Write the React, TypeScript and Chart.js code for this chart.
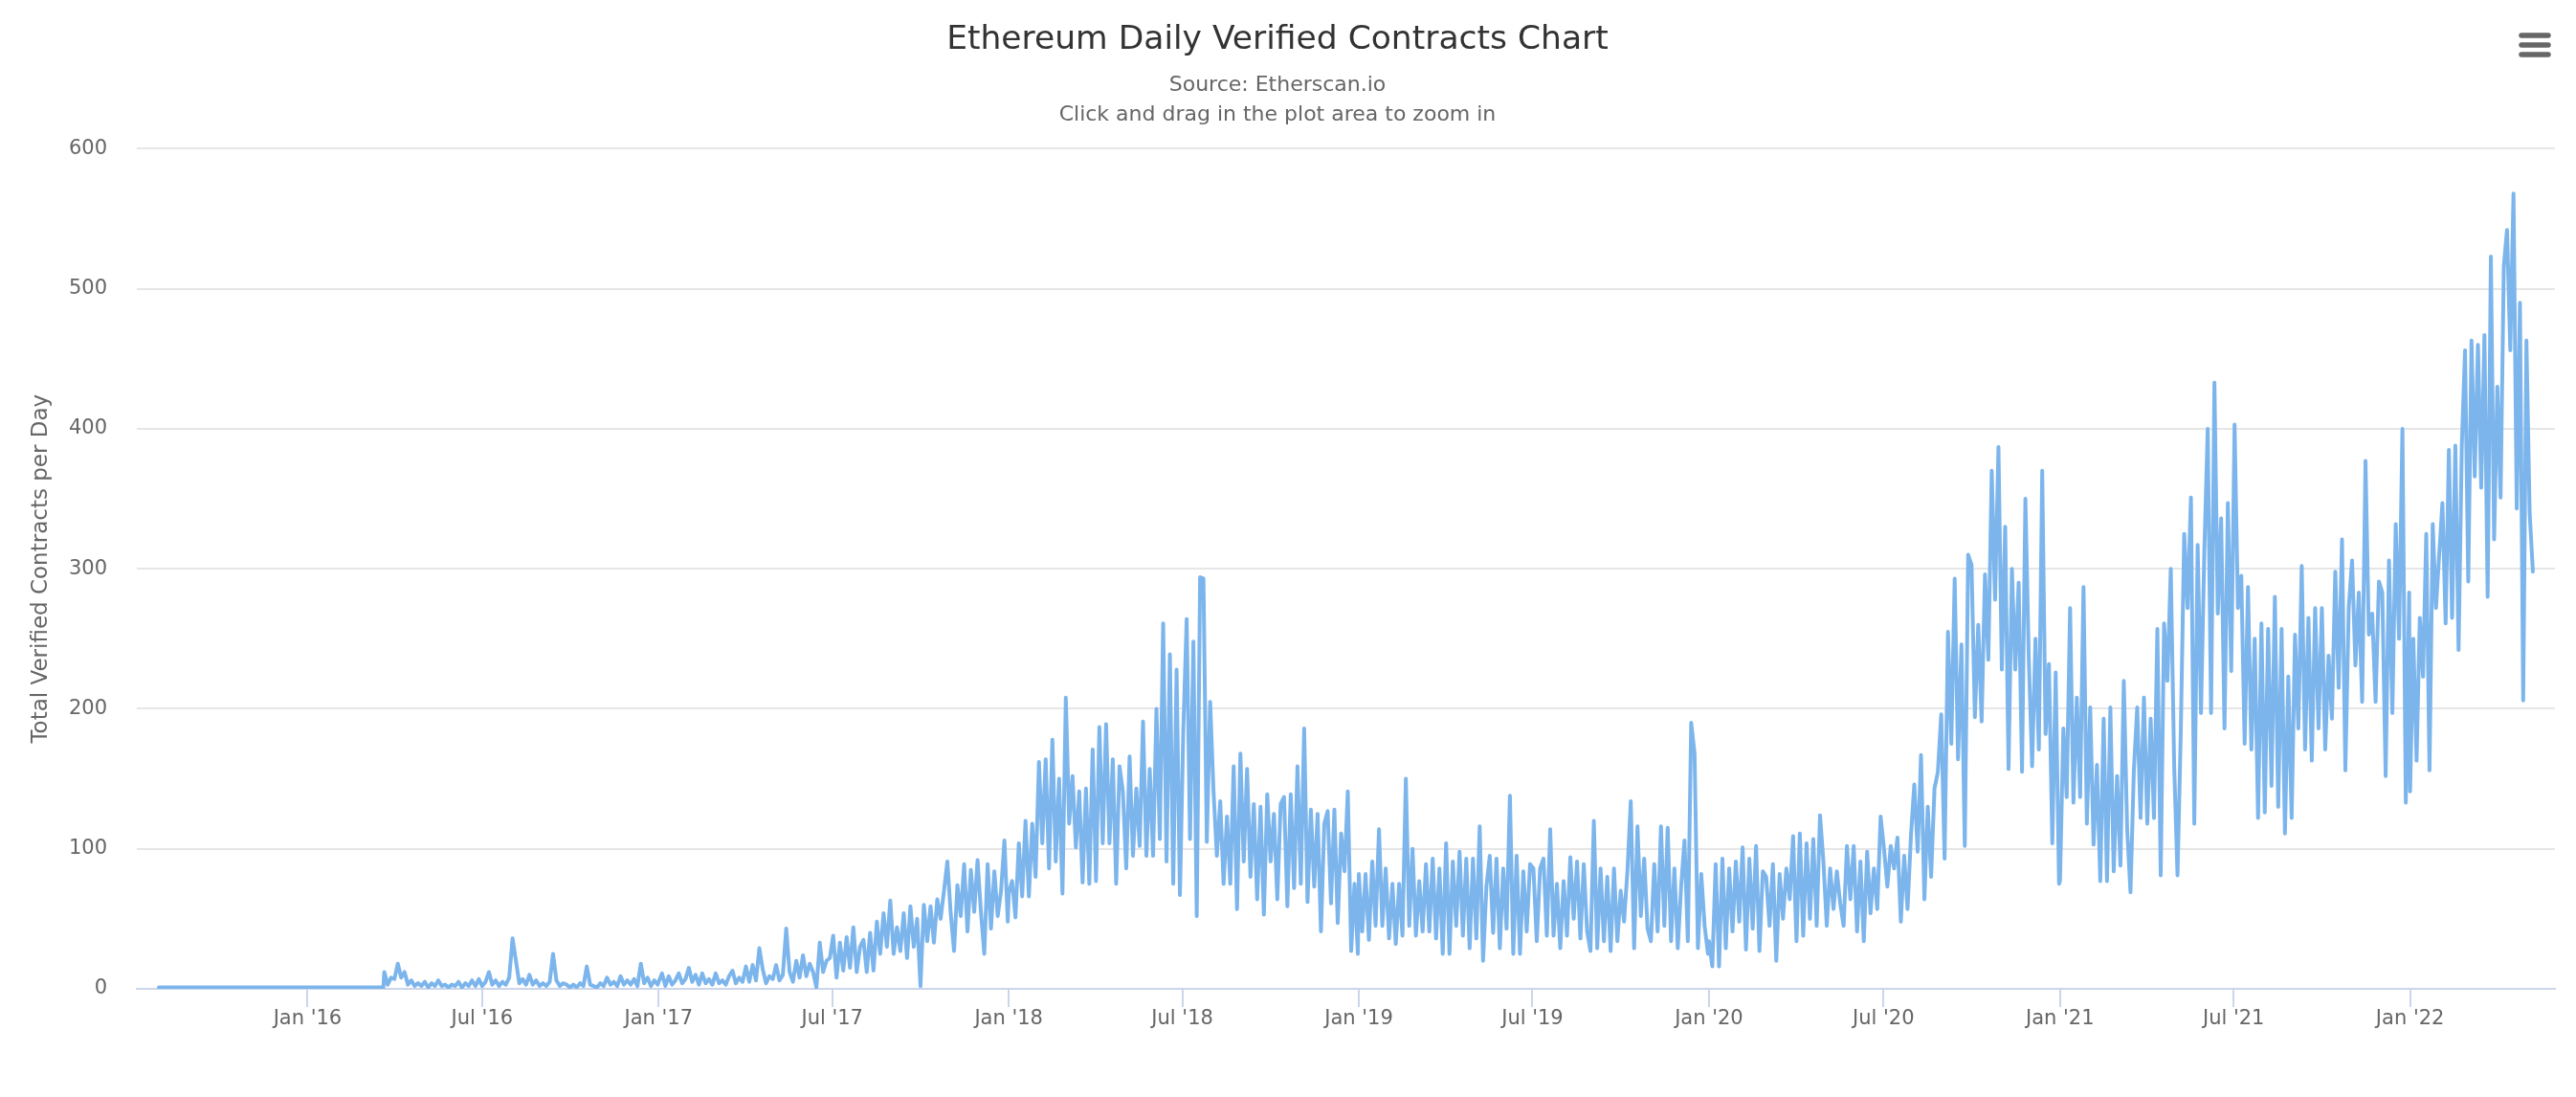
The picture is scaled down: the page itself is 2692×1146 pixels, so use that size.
import React, { useEffect, useRef } from "react";
import { Chart, registerables } from "chart.js";

Chart.register(...registerables);

// ---------- texts & ticks ----------
const CHART_TITLE = "Ethereum Daily Verified Contracts Chart";
const CHART_SUBTITLE = ["Source: Etherscan.io", "Click and drag in the plot area to zoom in"];
const Y_AXIS_TITLE = "Total Verified Contracts per Day";
const Y_TICK_VALUES = [0, 100, 200, 300, 400, 500, 600];
const X_TICK_DATES = [
  "2016-01-01", "2016-07-01", "2017-01-01", "2017-07-01", "2018-01-01", "2018-07-01",
  "2019-01-01", "2019-07-01", "2020-01-01", "2020-07-01", "2021-01-01", "2021-07-01", "2022-01-01",
];
const MONTH_LABELS = ["Jan", "Feb", "Mar", "Apr", "May", "Jun", "Jul", "Aug", "Sep", "Oct", "Nov", "Dec"];
const X_AXIS_RANGE = ["2015-07-07", "2022-06-01"];

// ---------- data (~2 samples per week) ----------
const launchDates = ["2015-07-30", "2016-03-20"];
const launchValues = [1, 1];

// 2016-03-21 .. 2016-12-31
const values2016 = [
  12, 3, 8,
  7, 18, 8, 12, 3, 6, 2, 4,
  2, 5, 1, 4, 2, 6, 2, 3, 1,
  3, 2, 5, 1, 4, 2, 6, 2, 7,
  2, 5, 12, 3, 6, 2, 5, 3, 8,
  36, 20, 4, 7, 3, 10, 3, 6, 2,
  4, 2, 5, 25, 6, 2, 4, 3,
  1, 3, 1, 4, 2, 16, 3, 2, 1,
  4, 2, 8, 3, 5, 2, 9, 3, 6,
  3, 7, 2, 18, 4, 8, 2, 6, 3,
];
// 2017-01-01 .. 2017-12-31
const values2017 = [
  5, 11, 2, 9, 3, 6, 11, 4, 7,
  15, 5, 10, 3, 11, 4, 7, 3,
  11, 4, 6, 3, 9, 13, 4, 8, 5,
  16, 5, 17, 6, 29, 14, 4, 9,
  7, 17, 6, 10, 43, 12, 5, 20, 8,
  24, 9, 18, 12, 1, 33, 12, 20, 22,
  38, 8, 33, 13, 37, 15, 44, 12, 30,
  35, 12, 40, 13, 48, 25, 54, 30, 63,
  25, 44, 27, 54, 22, 59, 30, 50,
  2, 60, 34, 59, 33, 64, 50, 70, 91,
  54, 27, 74, 52, 89, 41, 85, 55, 92,
  55, 25, 89, 43, 84, 52, 70, 106, 48,
];
// 2018-01-01 .. 2018-12-31
const values2018 = [
  68, 77, 51, 104, 66, 120, 66, 118, 80,
  162, 104, 164, 86, 178, 91, 150, 68,
  208, 118, 152, 101, 141, 76, 143, 75, 171,
  77, 187, 104, 189, 104, 164, 75, 159,
  141, 86, 166, 95, 143, 102, 191, 95, 157,
  95, 200, 107, 261, 91, 239, 75, 228, 67,
  185, 264, 107, 248, 52, 294, 293, 105, 205,
  141, 95, 134, 75, 123, 75, 159, 57, 168,
  91, 157, 80, 132, 64, 130, 53, 139,
  91, 125, 64, 132, 137, 59, 139, 72, 159,
  75, 186, 62, 128, 73, 125, 41, 118, 127,
  61, 128, 47, 111, 84, 141, 27, 75, 25,
];
// 2019-01-01 .. 2019-12-31
const values2019 = [
  82, 41, 82, 35, 91, 45, 114, 45, 86,
  36, 75, 32, 75, 38, 150, 45, 100,
  38, 77, 41, 89, 41, 93, 36, 86, 25,
  104, 25, 91, 45, 98, 38, 93, 29,
  93, 36, 116, 20, 73, 95, 40, 93, 29,
  86, 43, 138, 25, 95, 25, 84, 41, 89,
  86, 34, 86, 93, 38, 114, 38, 75, 29,
  77, 38, 94, 50, 91, 36, 89, 41, 27,
  120, 29, 86, 34, 80, 27, 86, 34,
  70, 48, 84, 134, 29, 116, 52, 93, 43,
  34, 89, 41, 116, 45, 115, 34, 86, 29,
  73, 106, 34, 190, 168, 29, 82, 45, 25,
];
// 2020-01-01 .. 2020-12-31
const values2020 = [
  34, 16, 89, 16, 93, 29, 86, 41, 91,
  48, 101, 28, 93, 43, 102, 27, 84,
  80, 45, 89, 20, 82, 50, 86, 64, 109,
  34, 111, 38, 104, 50, 107, 45, 124,
  91, 45, 86, 57, 84, 61, 45, 102, 64,
  102, 41, 91, 34, 98, 54, 86, 57, 123,
  100, 73, 102, 86, 108, 48, 95, 57, 109,
  146, 98, 167, 64, 130, 80, 143, 155, 196,
  93, 255, 175, 293, 164, 246, 102, 310,
  303, 194, 260, 191, 296, 235, 370, 278, 387,
  228, 330, 157, 300, 228, 290, 155, 350, 237,
  159, 250, 171, 370, 182, 232, 104, 226, 75,
];
// 2021-01-01 .. 2021-12-31
const values2021 = [
  77, 186, 137, 272, 133, 208, 137, 287, 118,
  201, 103, 160, 77, 193, 77, 201, 84,
  152, 88, 220, 114, 69, 156, 201, 122, 208,
  118, 193, 122, 257, 81, 261, 220, 300,
  160, 81, 186, 325, 272, 351, 118, 317, 197,
  313, 400, 197, 433, 268, 336, 186, 347, 227,
  403, 272, 295, 175, 287, 171, 250, 122, 261,
  126, 257, 145, 280, 130, 257, 111, 223, 122,
  253, 186, 302, 171, 265, 163, 272, 186,
  272, 171, 238, 193, 298, 215, 321, 156, 272,
  306, 231, 283, 205, 377, 253, 268, 205, 291,
  283, 152, 306, 197, 332, 250, 400, 133, 283,
];
// 2022-01-01 .. 2022-05-09
const values2022 = [
  141, 250, 163, 265, 223, 325, 156, 332, 272,
  310, 347, 261, 385, 265, 388, 242, 388,
  456, 291, 463, 366, 460, 358, 467, 280, 523,
  321, 430, 351, 516, 542, 456, 568, 343, 490,
  206, 463, 340, 298,
];

const segmentDates = [
  ["2016-03-21", "2016-12-31"],
  ["2017-01-01", "2017-12-31"],
  ["2018-01-01", "2018-12-31"],
  ["2019-01-01", "2019-12-31"],
  ["2020-01-01", "2020-12-31"],
  ["2021-01-01", "2021-12-31"],
  ["2022-01-01", "2022-05-09"],
];
const segmentValues = [values2016, values2017, values2018, values2019, values2020, values2021, values2022];

function buildPoints() {
  const pts: { x: number; y: number }[] = [];
  launchDates.forEach((d, i) => pts.push({ x: Date.parse(d), y: launchValues[i] }));
  segmentDates.forEach(([from, to], s) => {
    const vals = segmentValues[s];
    const a = Date.parse(from);
    const b = Date.parse(to);
    const step = (b - a) / (vals.length - 1);
    vals.forEach((v, i) => pts.push({ x: a + i * step, y: v }));
  });
  return pts;
}

function formatTick(value: number) {
  const d = new Date(value);
  return `${MONTH_LABELS[d.getUTCMonth()]} '${String(d.getUTCFullYear()).slice(2)}`;
}

const FONT = "'DejaVu Sans', 'Liberation Sans', sans-serif";

const menuIconPlugin = {
  id: "menuIcon",
  afterDraw(chart: any) {
    const ctx = chart.ctx as CanvasRenderingContext2D;
    ctx.save();
    ctx.strokeStyle = "#666666";
    ctx.lineWidth = 5.5;
    ctx.lineCap = "round";
    [37, 47, 57].forEach((y) => {
      ctx.beginPath();
      ctx.moveTo(2635, y);
      ctx.lineTo(2663, y);
      ctx.stroke();
    });
    ctx.restore();
  },
};

export default function App() {
  const canvasRef = useRef<HTMLCanvasElement>(null);

  useEffect(() => {
    const canvas = canvasRef.current;
    if (!canvas) return;
    const chart = new Chart(canvas, {
      type: "line",
      data: {
        datasets: [
          {
            label: "Verified Contracts",
            data: buildPoints(),
            borderColor: "#7cb5ec",
            backgroundColor: "#7cb5ec",
            borderWidth: 4,
            pointRadius: 0,
            tension: 0,
            fill: false,
            borderJoinStyle: "round",
            borderCapStyle: "round",
          },
        ],
      },
      options: {
        responsive: false,
        animation: false,
        devicePixelRatio: 1,
        parsing: false,
        normalized: true,
        layout: { padding: { top: 0, right: 22, bottom: 0, left: 0 } },
        plugins: {
          legend: { display: false },
          tooltip: { enabled: false },
          title: {
            display: true,
            text: CHART_TITLE,
            color: "#333333",
            font: { family: FONT, size: 34.5, weight: "normal", lineHeight: 1.2 },
            padding: { top: 21, bottom: 0 },
          },
          subtitle: {
            display: true,
            text: CHART_SUBTITLE,
            color: "#666666",
            font: { family: FONT, size: 22, weight: "normal", lineHeight: 1.41 },
            padding: { top: 11.5, bottom: 19.5 },
          },
        },
        scales: {
          x: {
            type: "linear",
            min: Date.parse(X_AXIS_RANGE[0]),
            max: Date.parse(X_AXIS_RANGE[1]),
            afterBuildTicks: (scale: any) => {
              scale.ticks = X_TICK_DATES.map((d) => ({ value: Date.parse(d) }));
            },
            afterFit: (scale: any) => {
              scale.height = 113;
            },
            ticks: {
              autoSkip: false,
              maxRotation: 0,
              minRotation: 0,
              color: "#666666",
              font: { family: FONT, size: 21 },
              padding: 0,
              callback: (v: any) => formatTick(Number(v)),
            },
            grid: {
              drawOnChartArea: false,
              drawTicks: true,
              tickLength: 19,
              color: "#ccd6eb",
              lineWidth: 2,
            },
            border: { display: true, color: "#ccd6eb", width: 2 },
          },
          y: {
            type: "linear",
            min: 0,
            max: 600,
            afterBuildTicks: (scale: any) => {
              scale.ticks = Y_TICK_VALUES.map((v) => ({ value: v }));
            },
            afterFit: (scale: any) => {
              scale.width = 143;
            },
            ticks: {
              color: "#666666",
              font: { family: FONT, size: 21 },
              padding: 31,
            },
            grid: {
              color: "#e6e6e6",
              lineWidth: 2,
              drawTicks: false,
            },
            border: { display: false },
            title: {
              display: true,
              text: Y_AXIS_TITLE,
              color: "#666666",
              font: { family: FONT, size: 23, weight: "normal" },
              padding: { top: 29, bottom: 0 },
            },
          },
        },
      },
      plugins: [menuIconPlugin],
    } as any);
    return () => chart.destroy();
  }, []);

  return (
    <div style={{ position: "fixed", left: 0, top: 0, width: 2692, height: 1146, background: "#ffffff" }}>
      <canvas ref={canvasRef} width={2692} height={1146} style={{ display: "block", width: 2692, height: 1146 }} />
    </div>
  );
}
